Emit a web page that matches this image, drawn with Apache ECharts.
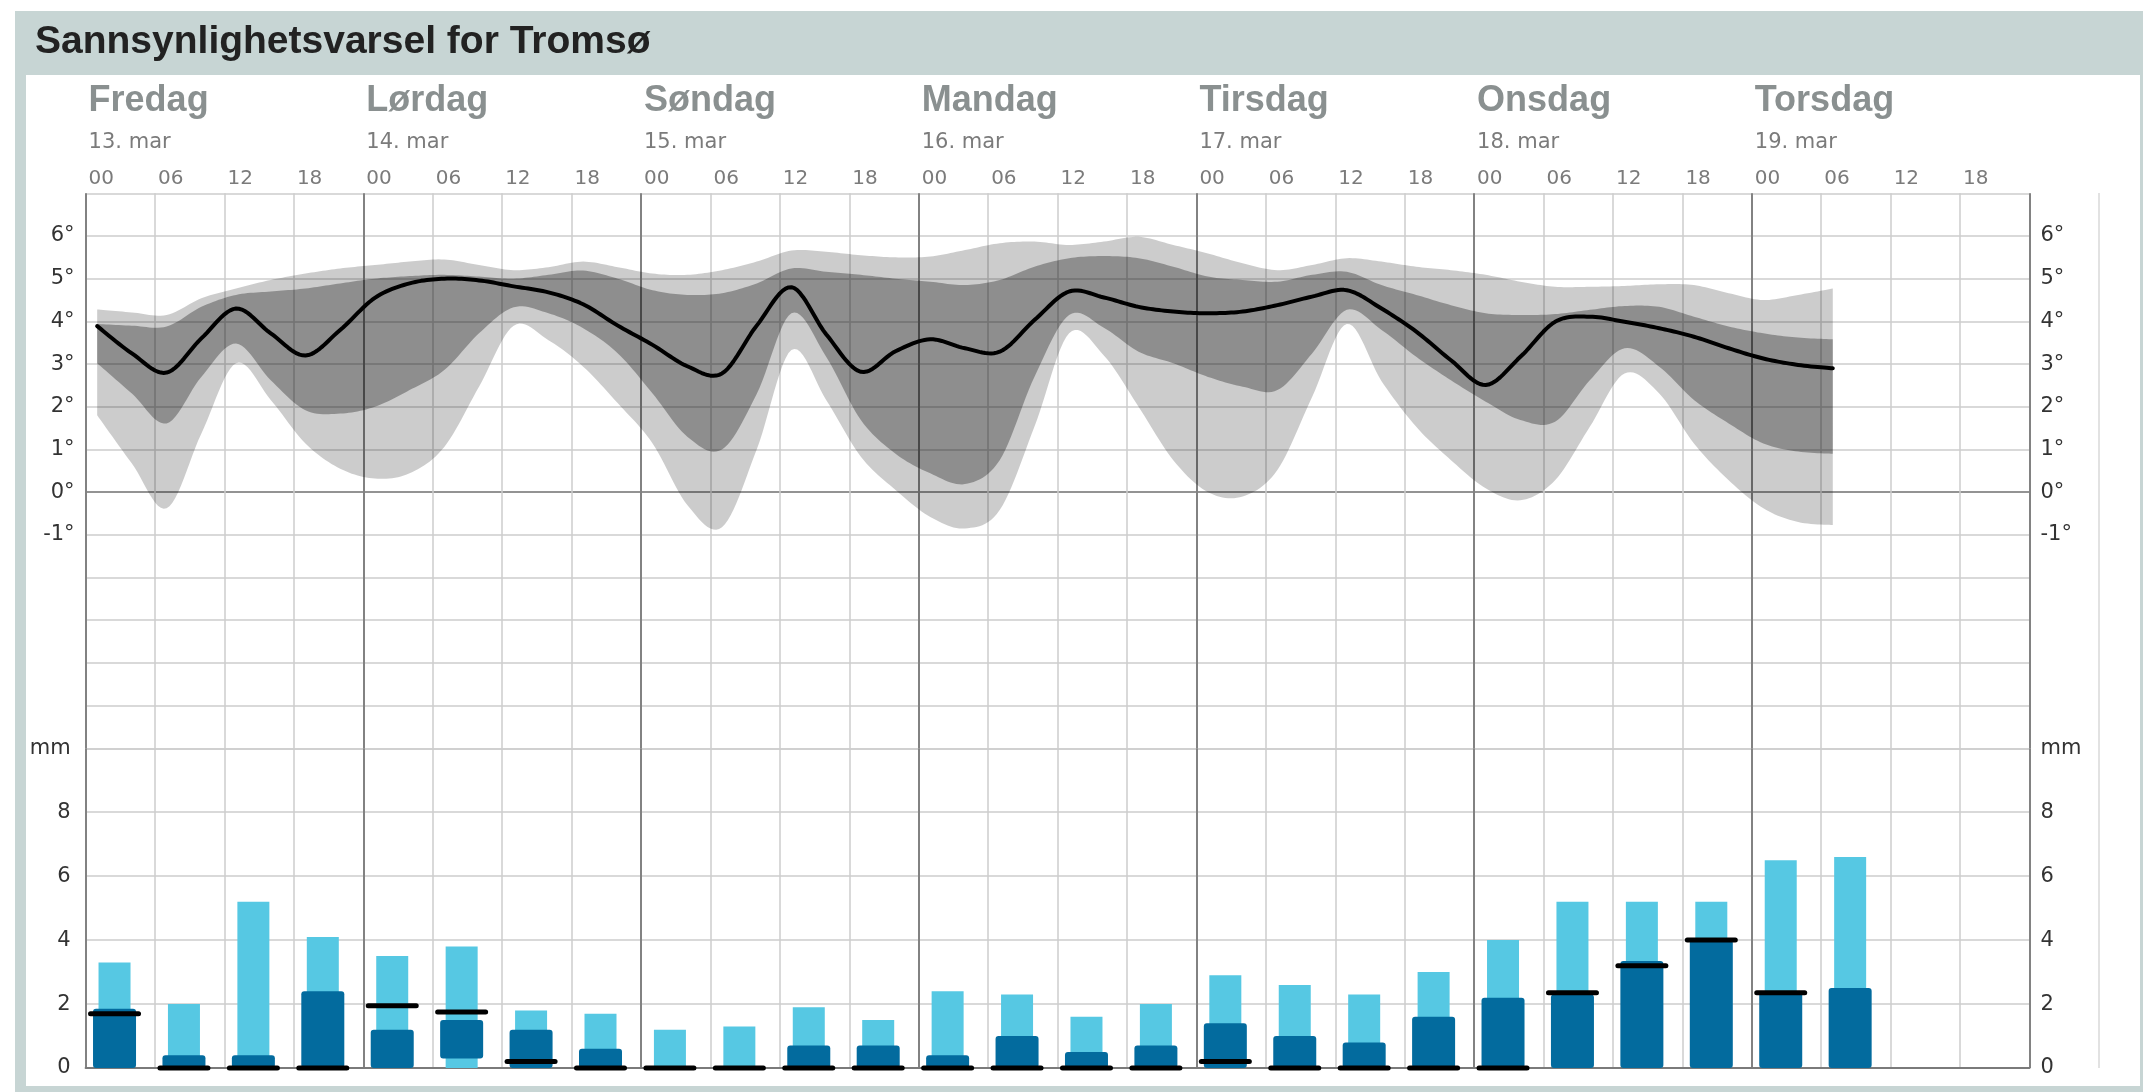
<!DOCTYPE html>
<html>
<head>
<meta charset="utf-8">
<title>Sannsynlighetsvarsel for Tromsø</title>
<script src="https://cdn.jsdelivr.net/npm/echarts@6/dist/echarts.min.js"></script>
<style>
  html, body { margin: 0; padding: 0; background: #ffffff; }
  #chart { width: 2143px; height: 1092px; }
</style>
</head>
<body>
<div id="chart"></div>
<script>
// ---- Labels -------------------------------------------------------------
const dayNames = ['Fredag', 'Lørdag', 'Søndag', 'Mandag', 'Tirsdag', 'Onsdag', 'Torsdag'];
const dayDates = ['13. mar', '14. mar', '15. mar', '16. mar', '17. mar', '18. mar', '19. mar'];
const hourLabels = ['00', '06', '12', '18'];
const tempTickLabels = [-1, 0, 1, 2, 3, 4, 5, 6];
const precipTickLabels = [0, 2, 4, 6, 8];

// ---- Temperature (hours counted from Friday 00) --------------------------
const tempHours = [1, 4, 7, 10, 13, 16, 19, 22, 25, 28, 31, 34, 37, 40, 43, 46, 49, 52,
  55, 58, 61, 64, 67, 70, 73, 76, 79, 82, 85, 88, 91, 94, 97, 100, 103, 106, 109, 112,
  115, 118, 121, 124, 127, 130, 133, 136, 139, 142, 145, 148, 151];
const tempMedian = [3.89, 3.25, 2.8, 3.6, 4.3, 3.72, 3.2, 3.8, 4.55, 4.89, 5.0, 4.96, 4.82, 4.68, 4.4, 3.9, 3.45, 2.95,
  2.78, 3.9, 4.8, 3.7, 2.82, 3.3, 3.58, 3.37, 3.29, 4.03, 4.7, 4.56, 4.34, 4.23, 4.19, 4.23, 4.38, 4.58, 4.73, 4.3,
  3.76, 3.09, 2.51, 3.17, 3.99, 4.11, 3.99, 3.84, 3.64, 3.37, 3.13, 2.98, 2.9];
const tempOuterHigh = [4.28, 4.21, 4.15, 4.54, 4.77, 4.97, 5.12, 5.24, 5.32, 5.4, 5.45, 5.32, 5.2, 5.27, 5.4, 5.27, 5.12, 5.09,
  5.2, 5.4, 5.66, 5.63, 5.55, 5.5, 5.52, 5.67, 5.83, 5.87, 5.79, 5.87, 5.98, 5.79, 5.59, 5.36, 5.2, 5.32, 5.48, 5.4,
  5.28, 5.2, 5.09, 4.93, 4.81, 4.81, 4.83, 4.87, 4.85, 4.66, 4.5, 4.62, 4.77];
const tempInnerHigh = [3.94, 3.9, 3.88, 4.34, 4.62, 4.7, 4.77, 4.89, 5.0, 5.06, 5.09, 5.05, 5.0, 5.09, 5.19, 5.0, 4.73, 4.62,
  4.66, 4.89, 5.24, 5.16, 5.09, 5.0, 4.93, 4.85, 4.97, 5.28, 5.48, 5.53, 5.48, 5.28, 5.05, 4.97, 4.93, 5.09, 5.16, 4.85,
  4.62, 4.38, 4.19, 4.15, 4.17, 4.27, 4.36, 4.34, 4.11, 3.88, 3.72, 3.62, 3.58];
const tempInnerLow = [3.02, 2.31, 1.61, 2.7, 3.48, 2.62, 1.92, 1.84, 2.0, 2.39, 2.86, 3.72, 4.33, 4.19, 3.84, 3.25, 2.31, 1.3,
  1.0, 2.3, 4.19, 3.17, 1.69, 0.9, 0.44, 0.19, 0.75, 2.7, 4.15, 3.85, 3.29, 3.02, 2.7, 2.47, 2.39, 3.25, 4.27, 3.8,
  3.17, 2.62, 2.12, 1.69, 1.65, 2.62, 3.37, 2.94, 2.16, 1.61, 1.14, 0.95, 0.9];
const tempOuterLow = [1.8, 0.67, -0.38, 1.37, 3.02, 2.16, 1.14, 0.55, 0.32, 0.44, 1.06, 2.47, 3.9, 3.56, 2.94, 2.08, 1.14, -0.3,
  -0.82, 1.0, 3.33, 2.16, 0.83, 0.05, -0.58, -0.85, -0.42, 1.53, 3.72, 3.2, 2.0, 0.75, 0.0, -0.1, 0.52, 2.23, 3.94, 2.6,
  1.53, 0.75, 0.09, -0.19, 0.28, 1.53, 2.78, 2.31, 1.14, 0.28, -0.38, -0.7, -0.77];

// ---- Precipitation per 6-hour period (mm), period start hour -------------
const precipStart = [0, 6, 12, 18, 24, 30, 36, 42, 48, 54, 60, 66, 72, 78, 84, 90, 96, 102, 108, 114, 120, 126, 132, 138, 144, 150];
const precipHigh  = [3.3, 2.0, 5.2, 4.1, 3.5, 3.8, 1.8, 1.7, 1.2, 1.3, 1.9, 1.5, 2.4, 2.3, 1.6, 2.0, 2.9, 2.6, 2.3, 3.0, 4.0, 5.2, 5.2, 5.2, 6.5, 6.6];
const precipLow   = [0, 0, 0, 0, 0, 0.3, 0, 0, 0, 0, 0, 0, 0, 0, 0, 0, 0, 0, 0, 0, 0, 0, 0, 0, 0, 0];
const precipUpper = [1.85, 0.4, 0.4, 2.4, 1.2, 1.5, 1.2, 0.6, 0, 0, 0.7, 0.7, 0.4, 1.0, 0.5, 0.7, 1.4, 1.0, 0.8, 1.6, 2.2, 2.3, 3.35, 4.0, 2.4, 2.5];
const precipMid   = [1.7, 0, 0, 0, 1.95, 1.75, 0.2, 0, 0, 0, 0, 0, 0, 0, 0, 0, 0.2, 0, 0, 0, 0, 2.35, 3.2, 4.0, 2.35, null];

// ---- Styling constants ----------------------------------------------------
const FONT = "'Liberation Sans', Arial, sans-serif";
const SMALL_FONT = "'DejaVu Sans', Verdana, sans-serif";
const GRID_LIGHT = '#cdcdcd';
const GRID_DAY = '#828282';
const GRID_ZERO = '#6f6f6f';
const BAR_SHIFT_H = 2.5;          // bars sit slightly left of the period centre
const LIGHT_BLUE = '#56c8e3';
const DARK_BLUE = '#036b9e';

// temperature split lines run from -6° to 7°; the 0° one is drawn darker
const tempGridColors = Array.from({ length: 14 }, (_, i) => (i - 6 === 0 ? GRID_ZERO : GRID_LIGHT));

// Catmull-Rom smoothing of a pixel polyline
function smoothPath(pts, steps) {
  const out = [];
  const n = pts.length;
  for (let i = 0; i < n - 1; i++) {
    const p0 = pts[Math.max(i - 1, 0)], p1 = pts[i], p2 = pts[i + 1], p3 = pts[Math.min(i + 2, n - 1)];
    for (let s = 0; s < steps; s++) {
      const t = s / steps, t2 = t * t, t3 = t2 * t;
      const f = k => 0.5 * (2 * p1[k] + (-p0[k] + p2[k]) * t +
        (2 * p0[k] - 5 * p1[k] + 4 * p2[k] - p3[k]) * t2 +
        (-p0[k] + 3 * p1[k] - 3 * p2[k] + p3[k]) * t3);
      out.push([f(0), f(1)]);
    }
  }
  out.push(pts[n - 1]);
  return out;
}

// Filled band between a low and a high edge, drawn once for the whole series
function bandRenderer(fill) {
  return (params, api) => {
    if (params.dataIndexInside !== 0) return null;
    const n = params.dataInsideLength;
    const top = [], bottom = [];
    for (let i = 0; i < n; i++) {
      const h = api.value(0, i);
      bottom.push(api.coord([h, api.value(1, i)]));
      top.push(api.coord([h, api.value(2, i)]));
    }
    const outline = smoothPath(top, 12).concat(smoothPath(bottom, 12).reverse());
    return { type: 'polygon', shape: { points: outline }, style: { fill: fill } };
  };
}

// Smooth curve through all points of the series
function curveRenderer(stroke, width) {
  return (params, api) => {
    if (params.dataIndexInside !== 0) return null;
    const n = params.dataInsideLength;
    const pts = [];
    for (let i = 0; i < n; i++) pts.push(api.coord([api.value(0, i), api.value(1, i)]));
    return {
      type: 'polyline',
      shape: { points: smoothPath(pts, 12) },
      style: { stroke: stroke, lineWidth: width, fill: 'none', lineJoin: 'round', lineCap: 'round' }
    };
  };
}

function barShape(api, x, lo, hi, w, r) {
  const p0 = api.coord([x + BAR_SHIFT_H, lo]);
  const p1 = api.coord([x + BAR_SHIFT_H, hi]);
  return { x: p0[0] - w / 2, y: p1[1], width: w, height: p0[1] - p1[1], r: r };
}

const tickLabel = (margin, formatter) => ({
  margin: margin, color: '#333333', fontSize: 21, fontFamily: SMALL_FONT, formatter: formatter
});
const tempFormatter = v => (tempTickLabels.includes(v) ? v + '°' : '');
const precipFormatter = v => (v === 10 ? 'mm' : (precipTickLabels.includes(v) ? String(v) : ''));

const chart = echarts.init(document.getElementById('chart'), null, { renderer: 'canvas' });

const option = {
  animation: false,
  backgroundColor: '#ffffff',
  textStyle: { fontFamily: FONT },
  grid: [
    { left: 85.6, right: 113.5, top: 193.3, height: 555, outerBoundsMode: 'none', containLabel: false },
    { left: 85.6, right: 113.5, top: 748.3, height: 319.7, outerBoundsMode: 'none', containLabel: false }
  ],
  xAxis: [
    { // six-hour grid and hour labels
      type: 'value', gridIndex: 0, position: 'top', min: 0, max: 168, interval: 6,
      axisLine: { show: false }, axisTick: { show: false },
      axisLabel: {
        show: true, margin: 4, align: 'left', padding: [0, 0, 0, 3], showMinLabel: true, showMaxLabel: true,
        color: '#7b7b7b', fontSize: 20, lineHeight: 22, fontFamily: SMALL_FONT,
        formatter: v => (v >= 168 ? '' : hourLabels[(v % 24) / 6])
      },
      splitLine: { show: true, lineStyle: { color: GRID_LIGHT, width: 1.5 } }
    },
    { // day separators and day names
      type: 'value', gridIndex: 0, position: 'top', min: 0, max: 168, interval: 24,
      axisLine: { show: false },
      axisTick: { show: true, length: 110, lineStyle: { color: GRID_DAY, width: 2 } },
      axisLabel: {
        show: true, margin: 74, align: 'left', padding: [0, 0, 0, 3], showMinLabel: true, showMaxLabel: true,
        color: '#8a9090', fontSize: 36, fontWeight: 'bold', lineHeight: 36, fontFamily: FONT,
        formatter: v => dayNames[v / 24] || ''
      },
      splitLine: { show: true, lineStyle: { color: GRID_DAY, width: 2 } }
    },
    { // dates under the day names
      type: 'value', gridIndex: 0, position: 'top', min: 0, max: 168, interval: 24,
      axisLine: { show: false }, axisTick: { show: false }, splitLine: { show: false },
      axisLabel: {
        show: true, margin: 40, align: 'left', padding: [0, 0, 0, 3], showMinLabel: true, showMaxLabel: true,
        color: '#7b7b7b', fontSize: 21, lineHeight: 22, fontFamily: SMALL_FONT,
        formatter: v => dayDates[v / 24] || ''
      }
    },
    { // six-hour grid, precipitation panel
      type: 'value', gridIndex: 1, position: 'bottom', min: 0, max: 168, interval: 6,
      axisLine: { show: true, lineStyle: { color: '#7a7a7a', width: 2 } },
      axisTick: { show: false }, axisLabel: { show: false },
      splitLine: { show: true, lineStyle: { color: GRID_LIGHT, width: 1.5 } }
    },
    { // day separators, precipitation panel
      type: 'value', gridIndex: 1, position: 'bottom', min: 0, max: 168, interval: 24,
      axisLine: { show: false }, axisTick: { show: false }, axisLabel: { show: false },
      splitLine: { show: true, lineStyle: { color: GRID_DAY, width: 2 } }
    }
  ],
  yAxis: [
    {
      type: 'value', gridIndex: 0, position: 'left', min: -6, max: 7, interval: 1,
      axisLine: { show: false }, axisTick: { show: false },
      axisLabel: tickLabel(11, tempFormatter),
      splitLine: { show: true, lineStyle: { color: tempGridColors, width: 1.5 } }
    },
    {
      type: 'value', gridIndex: 0, position: 'right', min: -6, max: 7, interval: 1,
      axisLine: { show: false }, axisTick: { show: false }, splitLine: { show: false },
      axisLabel: tickLabel(11, tempFormatter)
    },
    {
      type: 'value', gridIndex: 1, position: 'left', min: 0, max: 10, interval: 2,
      axisLine: { show: false }, axisTick: { show: false },
      axisLabel: tickLabel(15, precipFormatter),
      splitLine: { show: true, lineStyle: { color: GRID_LIGHT, width: 1.5 } }
    },
    {
      type: 'value', gridIndex: 1, position: 'right', min: 0, max: 10, interval: 2,
      axisLine: { show: false }, axisTick: { show: false }, splitLine: { show: false },
      axisLabel: tickLabel(11, precipFormatter)
    }
  ],
  graphic: [
    { type: 'rect', z: -100, silent: true, shape: { x: 15, y: 11, width: 2128, height: 1081 }, style: { fill: '#c7d5d4' } },
    { type: 'rect', z: -99, silent: true, shape: { x: 26, y: 75, width: 2114, height: 1011 }, style: { fill: '#ffffff' } },
    { type: 'text', z: 10, silent: true, x: 35, y: 42,
      style: { text: 'Sannsynlighetsvarsel for Tromsø', fill: '#222222', fontSize: 39, fontWeight: 'bold',
        fontFamily: FONT, verticalAlign: 'middle', align: 'left' } },
    { type: 'line', z: 1, silent: true, shape: { x1: 2099, y1: 193, x2: 2099, y2: 1068 },
      style: { stroke: '#d8d8d8', lineWidth: 1.5 } }
  ],
  series: [
    { // outer temperature band
      type: 'custom', xAxisIndex: 0, yAxisIndex: 0, z: 2, silent: true,
      encode: { x: 0, y: [1, 2] },
      data: tempHours.map((h, i) => [h, tempOuterLow[i], tempOuterHigh[i]]),
      renderItem: bandRenderer('rgba(0,0,0,0.2)')
    },
    { // inner temperature band
      type: 'custom', xAxisIndex: 0, yAxisIndex: 0, z: 3, silent: true,
      encode: { x: 0, y: [1, 2] },
      data: tempHours.map((h, i) => [h, tempInnerLow[i], tempInnerHigh[i]]),
      renderItem: bandRenderer('rgba(0,0,0,0.3)')
    },
    { // median temperature
      type: 'custom', xAxisIndex: 0, yAxisIndex: 0, z: 5, silent: true,
      encode: { x: 0, y: 1 },
      data: tempHours.map((h, i) => [h, tempMedian[i]]),
      renderItem: curveRenderer('#000000', 4)
    },
    { // precipitation, high estimate
      type: 'custom', xAxisIndex: 3, yAxisIndex: 2, z: 2, silent: true,
      data: precipStart.map((h, i) => [h, precipHigh[i]]),
      renderItem: (params, api) => ({
        type: 'rect',
        shape: barShape(api, api.value(0), 0, api.value(1), 32, 0),
        style: { fill: LIGHT_BLUE }
      })
    },
    { // precipitation, likely range
      type: 'custom', xAxisIndex: 3, yAxisIndex: 2, z: 3, silent: true,
      data: precipStart.map((h, i) => [h, precipLow[i], precipUpper[i]]),
      renderItem: (params, api) => {
        const lo = api.value(1), hi = api.value(2);
        if (!(hi > lo)) return null;
        return {
          type: 'rect',
          shape: barShape(api, api.value(0), lo, hi, 43, 3),
          style: { fill: DARK_BLUE }
        };
      }
    },
    { // precipitation, middle estimate marker
      type: 'custom', xAxisIndex: 3, yAxisIndex: 2, z: 4, silent: true, clip: false,
      data: precipStart.map((h, i) => [h, precipMid[i] == null ? '-' : precipMid[i]]),
      renderItem: (params, api) => {
        const v = api.value(1);
        if (v === '-' || v == null || isNaN(v)) return null;
        const p = api.coord([api.value(0) + BAR_SHIFT_H, v]);
        return {
          type: 'rect',
          shape: { x: p[0] - 26.5, y: p[1] - 2.5, width: 53, height: 5, r: 2.5 },
          style: { fill: '#000000' }
        };
      }
    }
  ]
};

chart.setOption(option);
</script>
</body>
</html>
